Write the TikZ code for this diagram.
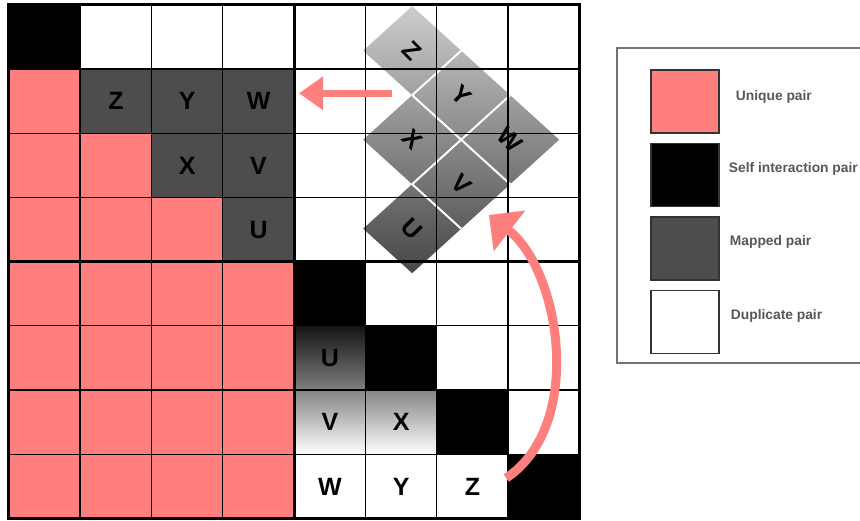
\documentclass[tikz,border=0pt]{standalone}
\usepackage{fontspec}
\setsansfont{Liberation Sans}
\usetikzlibrary{arrows.meta, positioning, calc}

\definecolor{pinkcell}{HTML}{FF7F7F}
\definecolor{darkcell}{HTML}{4D4D4D}
\definecolor{legendtext}{HTML}{575757}

\begin{document}
\begin{tikzpicture}[x=1pt, y=1pt]
        % Styles
        \tikzstyle{cell} = [rectangle, minimum width=71.3pt, minimum height=64.2pt, inner sep=0pt, font=\sffamily\bfseries\fontsize{25}{30}\selectfont]
        \tikzstyle{uniq} = [fill=pinkcell]
        \tikzstyle{selfp} = [fill=black]
        \tikzstyle{mapd} = [fill=darkcell]
        \tikzstyle{dupl} = [fill=white]
        \tikzstyle{gradu} = [top color=black!92, bottom color=black!50]
        \tikzstyle{gradv} = [top color=black!48, bottom color=white]
        \tikzstyle{gridline} = [draw=black, line width=1.3pt]
        \tikzstyle{border} = [draw=black, line width=3pt]
        \tikzstyle{tilelbl} = [inner sep=0pt, rotate=-45, font=\sffamily\bfseries\fontsize{25}{30}\selectfont]
        \tikzstyle{backarrow} = [draw=pinkcell, line width=6.5pt, -{Triangle[length=24pt, width=32pt]}]
        \tikzstyle{turnarrow} = [draw=pinkcell, line width=9pt, -{Triangle[length=26pt, width=50pt]}]
        \tikzstyle{swatch} = [rectangle, draw=black!80, line width=1.5pt, minimum width=68pt, minimum height=63pt, inner sep=0pt]
        \tikzstyle{legtext} = [inner sep=0pt, text=legendtext, font=\sffamily\bfseries\fontsize{13.8}{16}\selectfont]

        \useasboundingbox (0,0) rectangle (860,520);
        \clip (0,0) rectangle (860,520);

        % --- Pair matrix ---
        \foreach \row [count=\ry from 0] in {
            {selfp/{},dupl/{},dupl/{},dupl/{},dupl/{},dupl/{},dupl/{},dupl/{}},
            {uniq/{},mapd/Z,mapd/Y,mapd/W,dupl/{},dupl/{},dupl/{},dupl/{}},
            {uniq/{},uniq/{},mapd/X,mapd/V,dupl/{},dupl/{},dupl/{},dupl/{}},
            {uniq/{},uniq/{},uniq/{},mapd/U,dupl/{},dupl/{},dupl/{},dupl/{}},
            {uniq/{},uniq/{},uniq/{},uniq/{},selfp/{},dupl/{},dupl/{},dupl/{}},
            {uniq/{},uniq/{},uniq/{},uniq/{},gradu/U,selfp/{},dupl/{},dupl/{}},
            {uniq/{},uniq/{},uniq/{},uniq/{},gradv/V,gradv/X,selfp/{},dupl/{}},
            {uniq/{},uniq/{},uniq/{},uniq/{},dupl/W,dupl/Y,dupl/Z,selfp/{}}} {
            \foreach \sty/\txt [count=\cx from 0] in \row {
                \node [cell, \sty] (c\ry\cx) at ({44.65+71.3*\cx},{482.9-64.2*\ry}) {\txt};
            }
        }

        % --- Rotated triangle ---
        \coordinate (ucen) at ($(c35.center)+(11,1)$);
        \begin{scope}[shift={(ucen)}, x={(49pt,44.5pt)}, y={(-49pt,44.5pt)}]
            \shade [top color=black!20, bottom color=black!72] (-0.5,-0.5) -- (2.5,-0.5) -- (2.5,2.5) -- (1.5,2.5) -- (1.5,1.5) -- (0.5,1.5) -- (0.5,0.5) -- (-0.5,0.5) -- cycle;
            \draw [white, line width=2pt] (0.5,-0.5) -- (0.5,0.5) (1.5,-0.5) -- (1.5,1.5) (0.5,0.5) -- (2.5,0.5) (1.5,1.5) -- (2.5,1.5);
        \end{scope}

        % --- Grid lines ---
        \foreach \k in {1,...,7} {
            \draw [gridline] (c0\k.north west) -- (c7\k.south west);
            \draw [gridline] (c\k0.north west) -- (c\k7.north east);
        }
        \draw [border] (c00.north west) rectangle (c77.south east);
        \draw [border] (c04.north west) -- (c74.south west);
        \draw [border] (c40.north west) -- (c47.north east);

        \begin{scope}[shift={(ucen)}, x={(49pt,44.5pt)}, y={(-49pt,44.5pt)}]
            \node [tilelbl] (tU) at (0,0) {U};
            \node [tilelbl] (tV) at (1,0) {V};
            \node [tilelbl] (tW) at (2,0) {W};
            \node [tilelbl] (tX) at (1,1) {X};
            \node [tilelbl] (tY) at (2,1) {Y};
            \node [tilelbl] (tZ) at (2,2) {Z};
        \end{scope}

        % --- Arrows ---
        \coordinate (mtail) at ($(c15.center)+(-9,8)$);
        \coordinate (mhead) at ($(c14.west)+(5,8)$);
        \draw [backarrow] (mtail) -- (mhead);

        \coordinate (ctail) at ($(c76.east)+(-2,8.5)$);
        \coordinate (chead) at ($(c36.center)+(16.5,14.7)$);
        \draw [turnarrow] (ctail) .. controls +(79,53) and +(71,-55) .. (chead);

        % --- Legend ---
        \draw [draw=black!55, line width=1.3pt] (617,157) rectangle (885,472);
        \node [swatch, uniq] (sw1) at (685,418.5) {};
        \node [swatch, selfp, below=9pt of sw1] (sw2) {};
        \node [swatch, mapd, below=9pt of sw2] (sw3) {};
        \node [swatch, dupl, below=9pt of sw3] (sw4) {};

        \node [legtext, right=16pt of sw1, yshift=5pt] (lb1) {Unique pair};
        \node [legtext, right=9pt of sw2, yshift=6pt] (lb2) {Self interaction pair};
        \node [legtext, right=10pt of sw3, yshift=7pt] (lb3) {Mapped pair};
        \node [legtext, right=11pt of sw4, yshift=6pt] (lb4) {Duplicate pair};
\end{tikzpicture}
\end{document}
